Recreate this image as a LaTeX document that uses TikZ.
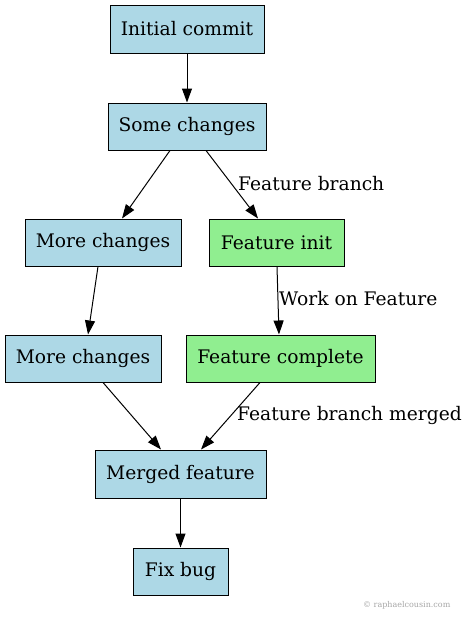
\documentclass[tikz,border=0pt]{standalone}
\usepackage{fontspec}
\setmainfont{DejaVu Serif}
\usetikzlibrary{arrows.meta}
\definecolor{nodeblue}{HTML}{ADD8E6}
\definecolor{nodegreen}{HTML}{90EE90}
\begin{document}
\begin{tikzpicture}[x=1pt,y=-1pt,
  commit/.style={draw=black, line width=1pt, fill=nodeblue, rectangle, inner sep=0pt, font=\fontsize{18.67}{20}\selectfont},
  featcommit/.style={commit, fill=nodegreen},
  edge/.style={draw=black, line width=1pt, -{Triangle[length=14pt,width=10pt]}},
  elabel/.style={font=\fontsize{18.67}{20}\selectfont, inner sep=0pt, anchor=west}]
\useasboundingbox (0,0) rectangle (467,621);
\node[commit, minimum width=154pt, minimum height=48pt] (init) at (187,29) {Initial commit};
\node[commit, minimum width=158pt, minimum height=47pt] (some) at (187,126.5) {Some changes};
\node[commit, minimum width=156pt, minimum height=47pt] (more1) at (103,242.5) {More changes};
\node[featcommit, minimum width=135pt, minimum height=47pt] (finit) at (276.5,242.5) {Feature init};
\node[commit, minimum width=156pt, minimum height=47pt] (more2) at (83,358.5) {More changes};
\node[featcommit, minimum width=189pt, minimum height=47pt] (fcomp) at (280.5,358.5) {Feature complete};
\node[commit, minimum width=171pt, minimum height=48pt] (merged) at (180.5,474) {Merged feature};
\node[commit, minimum width=95pt, minimum height=47pt] (fix) at (180.5,571.5) {Fix bug};
\node[font=\fontsize{8}{9}\selectfont, text=black!35, anchor=west, inner sep=0pt] (wm) at (363,605) {© raphaelcousin.com};

\draw[edge] (init.south) -- (some.north);
\draw[edge] (some.south -| 170,0) -- (more1.north -| 122,0);
\draw[edge] (some.south -| 206,0) -- (finit.north -| 258,0);
\draw[edge] (more1.south -| 98,0) -- (more2.north -| 88,0);
\draw[edge] (finit.south -| 277,0) -- (fcomp.north -| 279,0);
\draw[edge] (more2.south -| 103,0) -- (merged.north -| 161,0);
\draw[edge] (fcomp.south -| 260,0) -- (merged.north -| 201,0);
\draw[edge] (merged.south) -- (fix.north);

\node[elabel] (l1) at (238,184) {Feature branch};
\node[elabel] (l2) at (279,299) {Work on Feature};
\node[elabel] (l3) at (237,415) {Feature branch merged};
\end{tikzpicture}
\end{document}
